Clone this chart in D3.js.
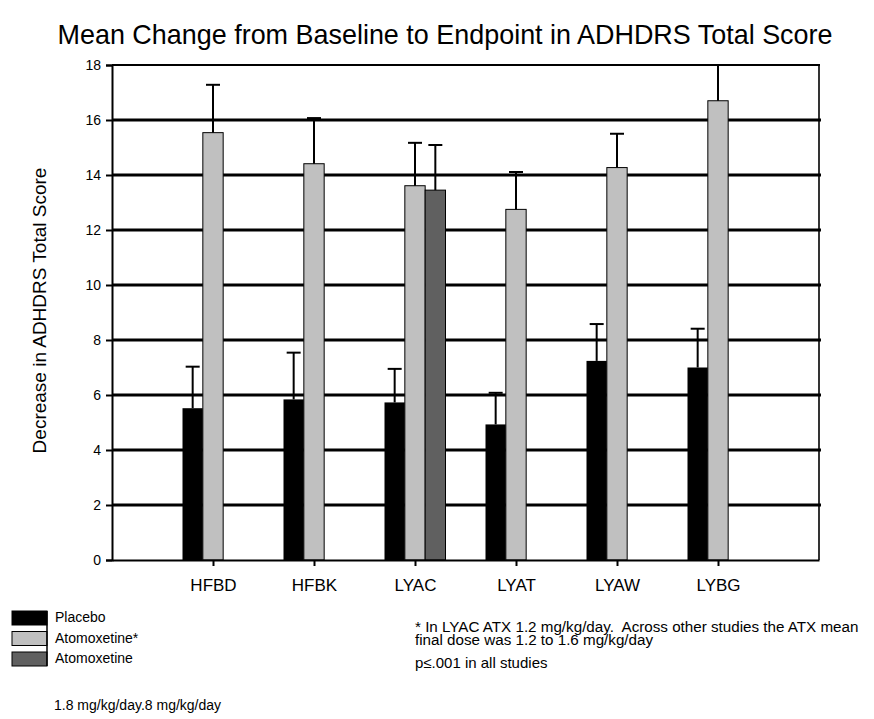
<!DOCTYPE html>
<html>
<head>
<meta charset="utf-8">
<script src="https://cdn.jsdelivr.net/npm/d3@7"></script>
<style>
  body { margin: 0; background: #fff; }
  text { font-family: Arial, "Liberation Sans", sans-serif; fill: #000; }
</style>
</head>
<body>
<div id="vis"></div>
<script>
// studies on the x axis
var studies = ["HFBD", "HFBK", "LYAC", "LYAT", "LYAW", "LYBG"];
var seriesNames = ["Placebo", "Atomoxetine*", "Atomoxetine"];
var seriesColors = ["#000000", "#c0c0c0", "#606060"];

// mean decrease and top of error bar, null where no bar
var placebo = [5.52, 5.84, 5.73, 4.93, 7.24, 7.0];
var placeboErr = [7.03, 7.54, 6.95, 6.08, 8.58, 8.41];
var atxStar = [15.54, 14.41, 13.61, 12.75, 14.27, 16.7];
var atxStarErr = [17.28, 16.07, 15.17, 14.11, 15.5, 18.3];
var atx = [null, null, 13.45, null, null, null];
var atxErr = [null, null, 15.09, null, null, null];

var yTicks = [0, 2, 4, 6, 8, 10, 12, 14, 16, 18];

const width = 874;
const height = 719;
const plotLeft = 112, plotRight = 819, plotTop = 65, plotBottom = 560;

var svg = d3.select("#vis")
  .append("svg")
  .attr("width", width)
  .attr("height", height);

var y = d3.scaleLinear().domain([0, 18]).range([plotBottom, plotTop]);
var x = d3.scalePoint().domain(studies).range([plotLeft, plotRight]).padding(1);
var inner = d3.scaleBand().domain([0, 1, 2]).range([-30.5, 30.5]);

// title
svg.append("text")
  .attr("x", 445)
  .attr("y", 44)
  .attr("text-anchor", "middle")
  .attr("textLength", 775)
  .attr("lengthAdjust", "spacingAndGlyphs")
  .style("font-size", "28px")
  .text("Mean Change from Baseline to Endpoint in ADHDRS Total Score");

// grid lines
svg.append("g")
  .selectAll("line")
  .data(yTicks.filter(function(d) { return d > 0 && d < 18; }))
  .enter()
  .append("line")
  .attr("x1", plotLeft)
  .attr("x2", plotRight + 2)
  .attr("y1", function(d) { return y(d); })
  .attr("y2", function(d) { return y(d); })
  .attr("stroke", "#000")
  .attr("stroke-width", 3);

// top and right frame
svg.append("line")
  .attr("x1", plotLeft).attr("x2", plotRight + 1)
  .attr("y1", y(18)).attr("y2", y(18))
  .attr("stroke", "#000").attr("stroke-width", 2);
svg.append("line")
  .attr("x1", plotRight).attr("x2", plotRight)
  .attr("y1", y(18)).attr("y2", y(0))
  .attr("stroke", "#000").attr("stroke-width", 1.6);

var rows = [];
studies.forEach(function(s, i) {
  [[placebo, placeboErr], [atxStar, atxStarErr], [atx, atxErr]].forEach(function(pair, k) {
    if (pair[0][i] != null) {
      rows.push({ study: s, k: k, value: pair[0][i], err: pair[1][i] });
    }
  });
});

svg.append("clipPath")
  .attr("id", "plotclip")
  .append("rect")
  .attr("x", plotLeft).attr("y", plotTop - 1)
  .attr("width", plotRight - plotLeft).attr("height", plotBottom - plotTop + 2);

var plot = svg.append("g").attr("clip-path", "url(#plotclip)");

// bars
plot.append("g")
  .selectAll("rect")
  .data(rows)
  .enter()
  .append("rect")
  .attr("x", function(d) { return x(d.study) + inner(d.k); })
  .attr("y", function(d) { return y(d.value); })
  .attr("width", inner.bandwidth())
  .attr("height", function(d) { return y(0) - y(d.value); })
  .attr("fill", function(d) { return seriesColors[d.k]; })
  .attr("stroke", "#000")
  .attr("stroke-width", function(d) { return d.k == 0 ? 0 : 1; });

// error bars
var eb = plot.append("g")
  .selectAll("g")
  .data(rows)
  .enter()
  .append("g")
  .attr("transform", function(d) {
    return "translate(" + (x(d.study) + inner(d.k) + inner.bandwidth() / 2) + ",0)";
  });

eb.append("line")
  .attr("x1", 0).attr("x2", 0)
  .attr("y1", function(d) { return y(d.value); })
  .attr("y2", function(d) { return y(d.err); })
  .attr("stroke", "#000")
  .attr("stroke-width", 2);

eb.append("line")
  .attr("x1", -7).attr("x2", 7)
  .attr("y1", function(d) { return y(d.err); })
  .attr("y2", function(d) { return y(d.err); })
  .attr("stroke", "#000")
  .attr("stroke-width", 2);

// y axis
var yAxis = svg.append("g")
  .attr("transform", "translate(" + plotLeft + ",0)")
  .call(d3.axisLeft(y).tickValues(yTicks).tickSize(6).tickPadding(5));
yAxis.select(".domain").attr("stroke", "#000").attr("stroke-width", 2);
yAxis.selectAll(".tick line").attr("stroke", "#000").attr("stroke-width", 2);
yAxis.selectAll(".tick text")
  .style("font-size", "14px")
  .style("font-family", "Arial, 'Liberation Sans', sans-serif");

// x axis
var xAxis = svg.append("g")
  .attr("transform", "translate(0," + plotBottom + ")")
  .call(d3.axisBottom(x).tickSize(6).tickPadding(13).tickSizeOuter(0));
xAxis.select(".domain").attr("stroke", "#000").attr("stroke-width", 2);
xAxis.selectAll(".tick line").attr("stroke", "#000").attr("stroke-width", 2);
xAxis.selectAll(".tick text")
  .style("font-size", "17px")
  .style("font-family", "Arial, 'Liberation Sans', sans-serif");

// y label
svg.append("text")
  .attr("transform", "translate(46," + (y(9) - 2) + ") rotate(-90)")
  .attr("text-anchor", "middle")
  .style("font-size", "19px")
  .text("Decrease in ADHDRS Total Score");

// legend
var legend = svg.append("g").attr("transform", "translate(12,611)");
legend.selectAll("rect")
  .data(seriesNames)
  .enter()
  .append("rect")
  .attr("x", 0)
  .attr("y", function(d, i) { return i * 20.5; })
  .attr("width", 35)
  .attr("height", 14)
  .attr("fill", function(d, i) { return seriesColors[i]; })
  .attr("stroke", "#000")
  .attr("stroke-width", 1);
legend.append("line")
  .attr("x1", 35).attr("x2", 35)
  .attr("y1", 0).attr("y2", 55)
  .attr("stroke", "#000").attr("stroke-width", 1.5);
legend.selectAll("text")
  .data(seriesNames)
  .enter()
  .append("text")
  .attr("x", 43)
  .attr("y", function(d, i) { return 11 + i * 20.5; })
  .style("font-size", "14px")
  .text(function(d) { return d; });

svg.append("text")
  .attr("x", 54)
  .attr("y", 710)
  .style("font-size", "14px")
  .text("1.8 mg/kg/day.8 mg/kg/day");

// footnotes
svg.append("text")
  .attr("x", 415).attr("y", 632)
  .style("font-size", "15.2px")
  .attr("xml:space", "preserve")
  .text("* In LYAC ATX 1.2 mg/kg/day.  Across other studies the ATX mean");
svg.append("text")
  .attr("x", 415).attr("y", 644.5)
  .style("font-size", "15.2px")
  .text("final dose was 1.2 to 1.6 mg/kg/day");
svg.append("text")
  .attr("x", 415).attr("y", 668)
  .style("font-size", "15px")
  .text("p\u2264.001 in all studies");
</script>
</body>
</html>
